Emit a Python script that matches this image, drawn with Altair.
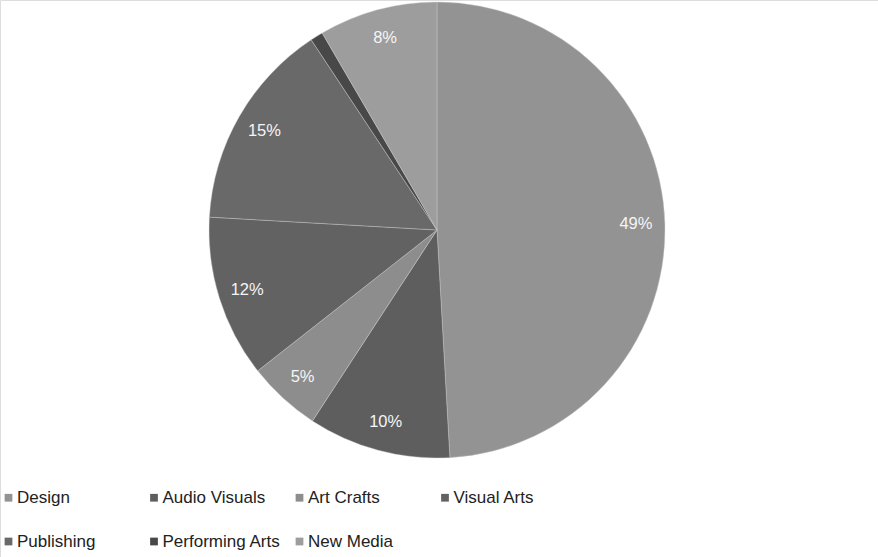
import altair as alt
import pandas as pd

categories = ["Design", "Audio Visuals", "Art Crafts", "Visual Arts",
              "Publishing", "Performing Arts", "New Media"]
shares = [49.1, 10.1, 5.2, 11.5, 14.8, 0.9, 8.4]
labels = ["49%", "10%", "5%", "12%", "15%", "", "8%"]
colors = ["#939393", "#5e5e5e", "#8d8d8d", "#626262", "#696969", "#484848", "#9d9d9d"]

df = pd.DataFrame({
    "category": categories,
    "share": shares,
    "label": labels,
    "order": list(range(len(categories))),
})

CX, CY, R = 437, 230, 228

base = alt.Chart(df).encode(
    theta=alt.Theta("share:Q", stack=True),
    order=alt.Order("order:Q"),
)

pie = base.mark_arc(outerRadius=R, stroke="#d0d0d0", strokeWidth=0.4).encode(
    x=alt.value(CX),
    y=alt.value(CY),
    color=alt.Color(
        "category:N",
        scale=alt.Scale(domain=categories, range=colors),
        legend=alt.Legend(
            title=None,
            orient="none",
            legendX=0,
            legendY=489,
            direction="horizontal",
            columns=4,
            gridAlign="all",
            columnPadding=9.5,
            rowPadding=26,
            symbolType="square",
            symbolSize=60,
            symbolStrokeWidth=0,
            labelFont="Liberation Sans",
            labelFontSize=17,
            labelColor="#222222",
            labelOffset=0,
            labelLimit=300,
        ),
    ),
)

text = base.mark_text(
    radius=199, font="Liberation Sans", fontSize=16.5, color="#f5f5f5"
).encode(
    x=alt.value(CX),
    y=alt.value(CY),
    text="label:N",
)

chart = alt.layer(pie, text).properties(
    width=878, height=557, padding=0,
    autosize=alt.AutoSizeParams(type="none"),
).configure_view(stroke=None).configure(background="white")

chart.save("out.html", embed_options={"renderer": "svg", "actions": False})
